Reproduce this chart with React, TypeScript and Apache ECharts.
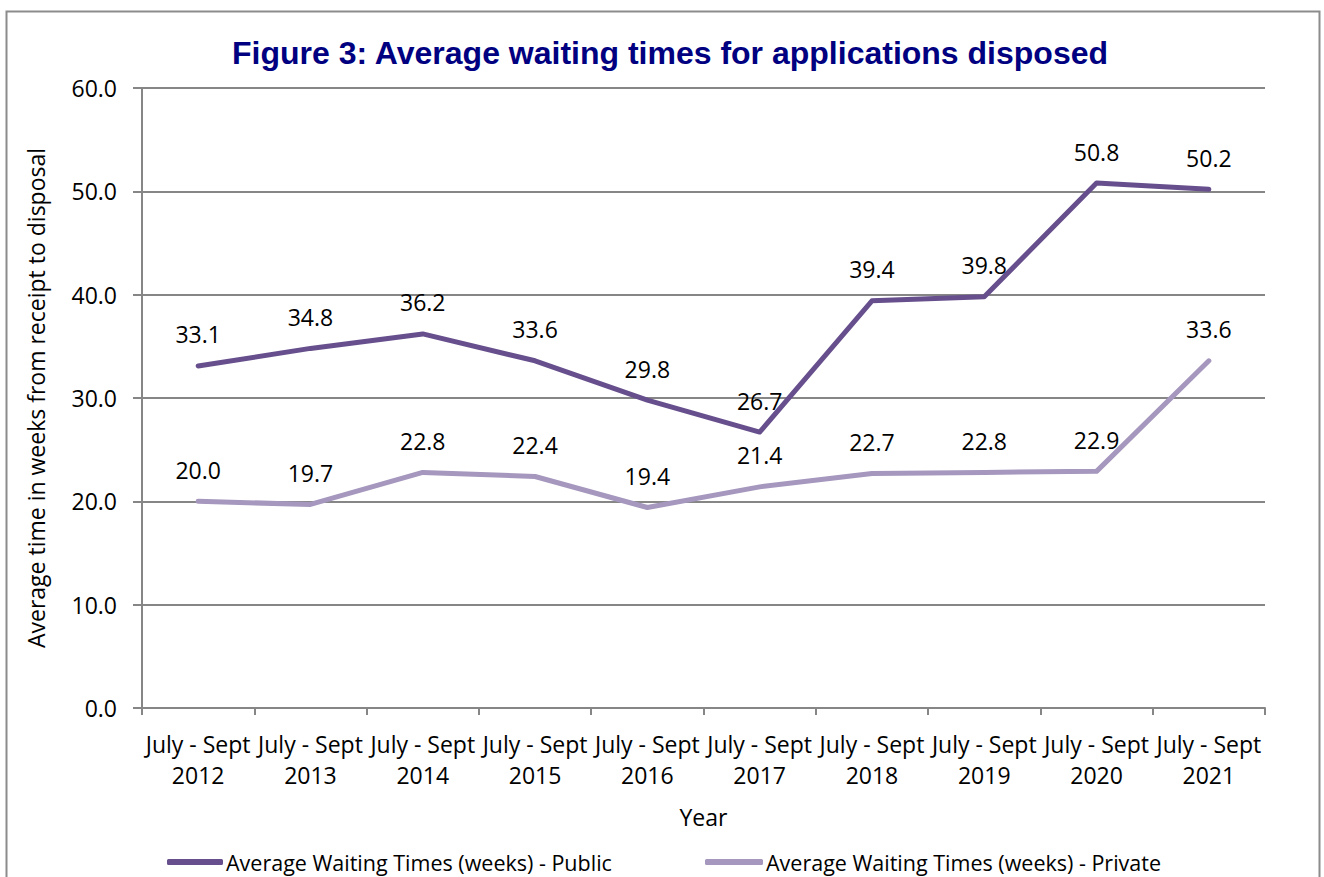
import React, { useEffect, useRef } from "react";
import * as echarts from "echarts";

const years = ["2012", "2013", "2014", "2015", "2016", "2017", "2018", "2019", "2020", "2021"];
const categories = years.map((y) => "July - Sept\n" + y);
const publicValues = [33.1, 34.8, 36.2, 33.6, 29.8, 26.7, 39.4, 39.8, 50.8, 50.2];
const privateValues = [20.0, 19.7, 22.8, 22.4, 19.4, 21.4, 22.7, 22.8, 22.9, 33.6];
const publicName = "Average Waiting Times (weeks) - Public";
const privateName = "Average Waiting Times (weeks) - Private";
const titleText = "Figure 3: Average waiting times for applications disposed";
const yAxisName = "Average time in weeks from receipt to disposal";
const xAxisName = "Year";

const FONT = "'Open Sans', sans-serif";
const GRAY = "#868686";
const PUBLIC_COLOR = "#664F8C";
const PRIVATE_COLOR = "#A597BD";

export default function App() {
  const ref = useRef<HTMLDivElement>(null);
  useEffect(() => {
    document.body.style.margin = "0";
    const chart = echarts.init(ref.current!, null, { renderer: "svg" });
    const labelCfg = {
      show: true,
      position: "top",
      distance: 19,
      color: "#000",
      fontFamily: FONT,
      fontSize: 23,
      formatter: (p: any) => Number(p.value).toFixed(1),
    };
    const legendText = { fontFamily: FONT, fontSize: 21.5, color: "#000", padding: [0, 0, 0, -2] };
    chart.setOption({
      animation: false,
      backgroundColor: "#fff",
      graphic: [
        {
          type: "rect",
          shape: { x: 6.5, y: 11.5, width: 1313, height: 900 },
          style: { fill: "none", stroke: "#8c8c8c", lineWidth: 2 },
          silent: true,
          z: -10,
        },
      ],
      title: {
        text: titleText,
        left: 665,
        top: 32,
        textAlign: "center",
        textStyle: {
          fontFamily: "'Liberation Sans', Arial, sans-serif",
          fontWeight: "bold",
          fontSize: 32,
          color: "#000080",
        },
      },
      legend: [
        {
          data: [publicName],
          left: 167,
          top: 851,
          icon: "roundRect",
          itemWidth: 56,
          itemHeight: 6,
          itemGap: 0,
          padding: 0,
          textStyle: legendText,
        },
        {
          data: [privateName],
          left: 705,
          top: 851,
          icon: "roundRect",
          itemWidth: 58,
          itemHeight: 6,
          itemGap: 0,
          padding: 0,
          textStyle: legendText,
        },
      ],
      grid: { left: 142, right: 59, top: 88, bottom: 169, containLabel: false },
      xAxis: {
        type: "category",
        data: categories,
        boundaryGap: true,
        name: xAxisName,
        nameLocation: "middle",
        nameGap: 97,
        nameTextStyle: { fontFamily: FONT, fontSize: 23, color: "#000" },
        axisLine: { lineStyle: { color: GRAY, width: 2 } },
        axisTick: { show: true, length: 7, alignWithLabel: false, lineStyle: { color: GRAY, width: 2 } },
        axisLabel: {
          interval: 0,
          margin: 20,
          fontFamily: FONT,
          fontSize: 23,
          lineHeight: 31,
          color: "#000",
        },
      },
      yAxis: {
        type: "value",
        min: 0,
        max: 60,
        interval: 10,
        name: yAxisName,
        nameLocation: "middle",
        nameRotate: 90,
        nameGap: 95,
        nameTextStyle: { fontFamily: FONT, fontSize: 23, color: "#000" },
        axisLine: { show: true, lineStyle: { color: GRAY, width: 2 } },
        axisTick: { show: true, length: 9, lineStyle: { color: GRAY, width: 2 } },
        axisLabel: {
          margin: 25,
          fontFamily: FONT,
          fontSize: 23,
          color: "#000",
          formatter: (v: number) => v.toFixed(1),
        },
        splitLine: { show: true, lineStyle: { color: GRAY, width: 2 } },
      },
      series: [
        {
          name: publicName,
          type: "line",
          data: publicValues,
          symbol: "circle",
          symbolSize: 2,
          showSymbol: true,
          itemStyle: { color: PUBLIC_COLOR },
          lineStyle: { color: PUBLIC_COLOR, width: 5, cap: "round", join: "round" },
          label: labelCfg,
          z: 3,
        },
        {
          name: privateName,
          type: "line",
          data: privateValues,
          symbol: "circle",
          symbolSize: 2,
          showSymbol: true,
          itemStyle: { color: PRIVATE_COLOR },
          lineStyle: { color: PRIVATE_COLOR, width: 5, cap: "round", join: "round" },
          label: labelCfg,
          z: 2,
        },
      ],
    });
    return () => chart.dispose();
  }, []);
  return <div ref={ref} style={{ width: 1324, height: 877 }} />;
}
